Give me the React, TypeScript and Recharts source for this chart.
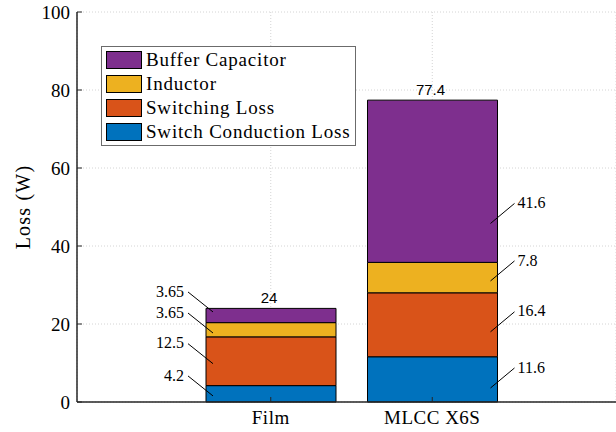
import { BarChart, Bar, XAxis, YAxis, CartesianGrid, Legend, LabelList } from 'recharts'

const categories = ['Film', 'MLCC X6S']
const conductionLoss = [4.2, 11.6]
const switchingLoss = [12.5, 16.4]
const inductorLoss = [3.65, 7.8]
const bufferLoss = [3.65, 41.6]
const yTicks = [0, 20, 40, 60, 80, 100]

const SERIF = 'Liberation Serif, DejaVu Serif, serif'
const SANS = 'Liberation Sans, Arial, sans-serif'
const AXIS = '#262626'

// stacking order bottom -> top
const series = [
  { key: 'conduction', name: 'Switch Conduction Loss', values: conductionLoss, color: '#0072BD' },
  { key: 'switching', name: 'Switching Loss', values: switchingLoss, color: '#D95319' },
  { key: 'inductor', name: 'Inductor', values: inductorLoss, color: '#EDB120' },
  { key: 'buffer', name: 'Buffer Capacitor', values: bufferLoss, color: '#7E2F8E' },
]

// where the leader line meets each segment (fraction of its height from the top), per bar
const leaderFrac: Record<string, number[]> = {
  conduction: [0.63, 0.69],
  switching: [0.55, 0.61],
  inductor: [0.73, 0.61],
  buffer: [0.25, 0.76],
}

const data = categories.map((name, i) => {
  const row: Record<string, number | string> = { name }
  let total = 0
  series.forEach(s => {
    row[s.key] = s.values[i]
    total += s.values[i]
  })
  row.total = Number(total.toFixed(1))
  return row
})

function YTick({ x, y, payload }: any) {
  const ax = Number(x) + 8
  return (
    <g>
      <line x1={ax} x2={ax + 5} y1={y} y2={y} stroke={AXIS} strokeWidth={1} />
      <text x={ax - 7} y={y} dy="0.35em" textAnchor="end" fill="#000" fontSize={19} style={{ fontFamily: SERIF }}>
        {payload.value}
      </text>
    </g>
  )
}

function XTick({ x, y, payload }: any) {
  const ay = Number(y) - 6
  return (
    <g>
      <line x1={x} x2={x} y1={ay} y2={ay - 5} stroke={AXIS} strokeWidth={1} />
      <text x={x} y={ay + 22} textAnchor="middle" fill="#000" fontSize={19} letterSpacing={0.5} style={{ fontFamily: SERIF }}>
        {payload.value}
      </text>
    </g>
  )
}

function makeSideLabel(key: string) {
  // leader line + value beside each segment (left of Film, right of MLCC)
  return function SideLabel(props: any) {
    const x = Number(props.x), y = Number(props.y)
    const w = Number(props.width), h = Number(props.height)
    const left = props.index === 0
    const ex = left ? x + 7 : x + w - 7
    const ey = y + h * leaderFrac[key][props.index]
    const sx = left ? ex - 25 : ex + 24
    const sy = ey - 20
    return (
      <g>
        <line x1={sx} y1={sy} x2={ex} y2={ey} stroke="#000" strokeWidth={1} />
        <text
          x={left ? sx - 4 : sx + 3}
          y={sy - 1}
          dy="0.35em"
          textAnchor={left ? 'end' : 'start'}
          fontSize={16}
          style={{ fontFamily: SERIF }}
          fill="#000"
        >
          {props.value}
        </text>
      </g>
    )
  }
}

function TotalLabel(props: any) {
  const x = Number(props.x), y = Number(props.y), w = Number(props.width)
  return (
    <text x={x + w / 2 - 2} y={y - 5} textAnchor="middle" fontSize={15} style={{ fontFamily: SANS }} fill="#000">
      {props.value}
    </text>
  )
}

function LegendBox() {
  return (
    <div
      style={{
        boxSizing: 'border-box',
        width: 255,
        height: 100,
        border: '1px solid #6b6b6b',
        background: '#fff',
        padding: '1px 0 0 4px',
        fontFamily: SERIF,
        fontSize: 19,
        letterSpacing: 0.8,
        color: '#000',
      }}
    >
      {[...series].reverse().map(s => (
        <div key={s.key} style={{ display: 'flex', alignItems: 'center', height: 24 }}>
          <span
            style={{
              boxSizing: 'border-box',
              width: 36,
              height: 18,
              border: '1px solid #000',
              background: s.color,
              marginRight: 4,
              flex: 'none',
            }}
          />
          <span style={{ lineHeight: '24px', whiteSpace: 'nowrap' }}>{s.name}</span>
        </div>
      ))}
    </div>
  )
}

function YLabel({ viewBox }: any) {
  const cx = viewBox.x + 23
  const cy = viewBox.y + viewBox.height / 2
  return (
    <text
      x={cx}
      y={cy}
      transform={`rotate(-90, ${cx}, ${cy})`}
      textAnchor="middle"
      dy="0.35em"
      fontSize={20}
      letterSpacing={1.2}
      style={{ fontFamily: SERIF }}
      fill="#000"
    >
      Loss (W)
    </text>
  )
}

export default function App() {
  return (
    <div style={{ position: 'fixed', left: 0, top: 0, width: 616, height: 432, overflow: 'hidden', background: '#fff' }}>
      <BarChart width={616} height={432} data={data} margin={{ top: 12, right: 0, bottom: 0, left: 0 }}>
        <CartesianGrid stroke="#d4d4d4" strokeDasharray="1 2" />
        {series.map(s => (
          <Bar
            key={s.key}
            dataKey={s.key}
            name={s.name}
            stackId="loss"
            fill={s.color}
            stroke="#000"
            strokeWidth={1}
            barSize={130}
            isAnimationActive={false}
          >
            <LabelList dataKey={s.key} content={makeSideLabel(s.key)} />
            {s.key === 'buffer' && <LabelList dataKey="total" content={TotalLabel} />}
          </Bar>
        ))}
        <XAxis
          dataKey="name"
          height={30}
          padding={{ left: 113, right: 103 }}
          axisLine={{ stroke: AXIS, strokeWidth: 1.5 }}
          tickLine={false}
          tickSize={0}
          tickMargin={6}
          tick={<XTick />}
        />
        <YAxis
          width={77}
          domain={[0, 100]}
          ticks={yTicks}
          interval={0}
          axisLine={{ stroke: AXIS, strokeWidth: 1.5 }}
          tickLine={false}
          tickSize={0}
          tickMargin={8}
          tick={<YTick />}
          label={<YLabel />}
        />
        <Legend
          layout="vertical"
          align="center"
          verticalAlign="middle"
          wrapperStyle={{ left: 101, top: 46, width: 'auto', height: 'auto' }}
          content={LegendBox}
        />
      </BarChart>
    </div>
  )
}
